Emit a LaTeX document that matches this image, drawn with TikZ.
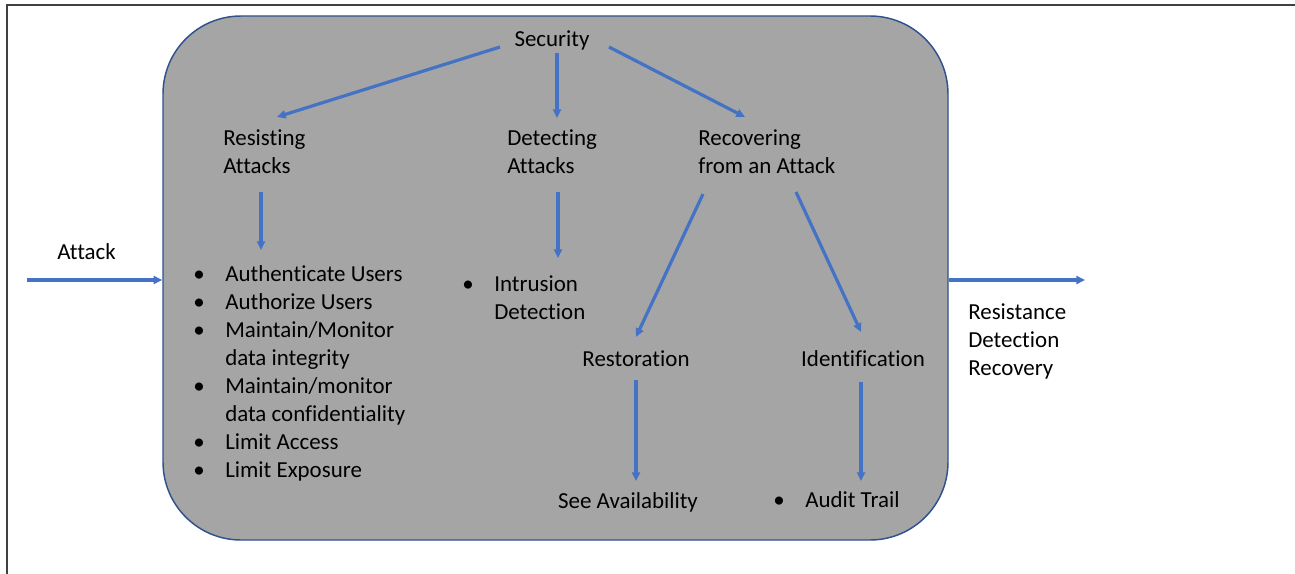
\documentclass[tikz,border=0pt]{standalone}
\usepackage{fontspec}
\setmainfont{Carlito}[Ligatures={NoCommon}]
\usetikzlibrary{arrows.meta,calc}
\definecolor{boxfill}{HTML}{A5A5A5}
\definecolor{boxline}{HTML}{2F528F}
\definecolor{flow}{HTML}{4472C4}
\definecolor{framegray}{HTML}{404040}
\tikzset{
  lbl/.style={font=\fontsize{17.2pt}{21pt}\selectfont, inner sep=0pt, align=left, text=black},
  arr/.style={draw=flow, line width=2.4pt, -{Triangle[length=6.5pt,width=6pt]}},
}
\newcommand{\bul}{\makebox[24pt][l]{•}}
\newcommand{\ind}{\hspace*{24pt}}
\begin{document}
\begin{tikzpicture}[x=0.75pt,y=-0.75pt]
\useasboundingbox (0,0) rectangle (1295,574);
% outer frame (left and top edges)
\draw[framegray, line width=1.5pt] (6.5,574) -- (6.5,5.5) -- (1295,5.5);

% the system block
\node[draw=boxline, fill=boxfill, line width=1.1pt, rounded corners=58.5pt,
      minimum width=588.75pt, minimum height=393pt, inner sep=0pt] (sys) at (555.5,278) {};

% labels (base anchors sit on the last line of each label)
\node[lbl, anchor=base] (sec) at (552,47) {Security};
\node[lbl, anchor=base west] (res) at (223,174) {Resisting\\Attacks};
\node[lbl, anchor=base west] (det) at (507,174) {Detecting\\Attacks};
\node[lbl, anchor=base west] (rec) at (698,174) {Recovering\\from an Attack};
\node[lbl, anchor=base west] (atk) at (57,259) {Attack};
\node[lbl, anchor=base west] (list) at (193,477)
  {\bul Authenticate Users\\
   \bul Authorize Users\\
   \bul Maintain/Monitor\\
   \ind data integrity\\
   \bul Maintain/monitor\\
   \ind data confidentiality\\
   \bul Limit Access\\
   \bul Limit Exposure};
\node[lbl, anchor=base west] (intr) at (462,319.5) {\bul Intrusion\\\ind Detection};
\node[lbl, anchor=base] (resto) at (636,366.5) {Restoration};
\node[lbl, anchor=base] (ident) at (863,366.5) {Identification};
\node[lbl, anchor=base] (see) at (628,508.5) {See Availability};
\node[lbl, anchor=base west] (audit) at (773,507.5) {\bul Audit Trail};
\node[lbl, anchor=base west] (outc) at (968,375.5) {Resistance\\Detection\\Recovery};

% connectors
\draw[arr] ($(sec.base)+(-52,0)$) -- ($(res.base west)+(54,-57)$);
\draw[arr] ($(sec.base)+(5,6)$) -- ($(det.base west)+(50,-56)$);
\draw[arr] ($(sec.base)+(57,0)$) -- ($(rec.base west)+(47,-57)$);
\draw[arr] ($(res.base west)+(38,18)$) -- ($(list.base west)+(68,-227)$);
\draw[arr] ($(det.base west)+(51,18)$) -- ($(intr.base west)+(96,-61.5)$);
\draw[arr] ($(rec.base west)+(5,20)$) -- ($(resto.base)+(0,-29.5)$);
\draw[arr] ($(rec.base west)+(98,18)$) -- ($(ident.base)+(-2,-34.5)$);
\draw[arr] ($(resto.base)+(0,13.5)$) -- ($(see.base)+(8,-27.5)$);
\draw[arr] ($(ident.base)+(-2,15.5)$) -- ($(audit.base west)+(88,-26.5)$);

% input and output flows
\coordinate (inflow) at (27,280);
\coordinate (outflow) at (1085,280);
\draw[arr] (inflow) -- (inflow -| sys.west);
\draw[arr] (outflow -| sys.east) -- (outflow);
\end{tikzpicture}
\end{document}
